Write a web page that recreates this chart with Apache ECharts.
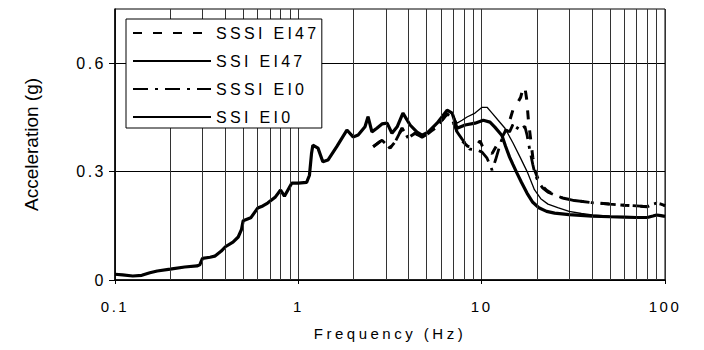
<!DOCTYPE html>
<html><head><meta charset="utf-8">
<script src="https://cdn.jsdelivr.net/npm/echarts@6/dist/echarts.min.js"></script>
<style>html,body{margin:0;padding:0;background:#fff}#c{width:704px;height:350px}</style>
</head><body><div id="c"></div>
<script>
// ---- data ----
const seriesNames = ['SSSI EI47', 'SSI EI47', 'SSSI EI0', 'SSI EI0'];
const yTickValues = [0, 0.3, 0.6];
const minorGridFreqs = [0.2,0.3,0.4,0.5,0.6,0.7,0.8,0.9, 2,3,4,5,6,7,8,9, 20,30,40,50,60,70,80,90];

// SSI EI0 (thick solid)
const freqSSI_EI0 = [0.1,0.11,0.125,0.14,0.155,0.17,0.2,0.24,0.28,0.29,0.3,0.33,0.35,0.38,0.4,0.44,0.47,0.49,0.5,0.55,0.6,0.64,0.68,0.75,0.8,0.84,0.92,1.0,1.11,1.15,1.18,1.2,1.28,1.36,1.45,1.62,1.84,1.99,2.12,2.31,2.4,2.52,2.68,2.86,3.05,3.24,3.46,3.72,4.07,4.44,4.73,5.1,5.71,6.48,6.9,7.34,8.12,9.2,10.2,11.1,11.8,12.9,13.5,14.2,14.8,15.6,16.5,17.7,19,20.5,22.6,25,30,40,50,60,70,80,86,90,95,100];
const valSSI_EI0  = [0.016,0.014,0.011,0.013,0.02,0.025,0.03,0.036,0.039,0.042,0.06,0.063,0.066,0.08,0.092,0.105,0.119,0.14,0.164,0.172,0.199,0.205,0.213,0.23,0.249,0.232,0.268,0.268,0.27,0.29,0.35,0.373,0.365,0.327,0.332,0.369,0.415,0.396,0.401,0.424,0.452,0.41,0.42,0.432,0.434,0.406,0.424,0.462,0.429,0.409,0.401,0.409,0.434,0.47,0.462,0.42,0.429,0.434,0.442,0.437,0.423,0.40,0.37,0.34,0.32,0.295,0.27,0.24,0.215,0.2,0.19,0.185,0.181,0.177,0.175,0.174,0.173,0.173,0.177,0.18,0.178,0.176];

// SSI EI47 (thin solid)
const freqSSI_EI47 = [0.1,0.11,0.125,0.14,0.155,0.17,0.2,0.24,0.28,0.29,0.3,0.33,0.35,0.38,0.4,0.44,0.47,0.49,0.5,0.55,0.6,0.64,0.68,0.75,0.8,0.84,0.92,1.0,1.11,1.15,1.18,1.2,1.28,1.36,1.45,1.62,1.84,1.99,2.12,2.31,2.4,2.52,2.68,2.86,3.05,3.24,3.46,3.72,4.07,4.44,4.73,5.1,5.71,6.48,6.9,7.34,7.82,8.32,9.2,10.05,10.7,11.4,12.3,13.4,14.8,16.2,17.7,19.4,21,23,26,30,35,40,50,60,70,80,86,90,95,100];
const valSSI_EI47  = [0.016,0.014,0.011,0.013,0.02,0.025,0.03,0.036,0.039,0.042,0.06,0.063,0.066,0.08,0.092,0.105,0.119,0.14,0.164,0.172,0.199,0.205,0.213,0.23,0.249,0.232,0.268,0.268,0.27,0.29,0.35,0.373,0.365,0.327,0.332,0.369,0.415,0.396,0.401,0.424,0.452,0.41,0.42,0.432,0.434,0.406,0.424,0.462,0.429,0.409,0.401,0.409,0.434,0.47,0.462,0.434,0.442,0.451,0.462,0.478,0.478,0.462,0.442,0.42,0.38,0.34,0.30,0.25,0.225,0.21,0.2,0.19,0.184,0.18,0.177,0.175,0.174,0.174,0.178,0.18,0.178,0.177];

// SSSI EI47 (dashed)
const freqSSSI_EI47 = [2.56,2.86,3.16,3.37,3.68,3.97,4.33,4.73,5.1,5.71,6.48,6.9,7.34,7.82,8.4,9.2,9.8,10.1,10.7,11.4,12.0,12.6,13.4,14.2,14.8,15.5,16.3,16.8,17.2,17.6,18.0,18.5,19.0,19.6,20.3,21.2,22.6,25,28,32,40,50,60,70,80,86,90,95,100];
const valSSSI_EI47  = [0.369,0.387,0.365,0.382,0.42,0.393,0.406,0.395,0.405,0.425,0.46,0.445,0.41,0.385,0.37,0.367,0.385,0.37,0.36,0.35,0.37,0.385,0.41,0.44,0.47,0.485,0.505,0.53,0.535,0.50,0.44,0.39,0.34,0.30,0.28,0.262,0.248,0.235,0.226,0.22,0.214,0.21,0.207,0.205,0.203,0.21,0.213,0.21,0.206];

// SSSI EI0 (dash-dot)
const freqSSSI_EI0 = [2.56,2.86,3.16,3.37,3.68,3.97,4.33,4.73,5.1,5.71,6.48,6.9,7.34,7.82,8.6,9.4,10.05,10.7,11.4,11.9,12.6,13.1,13.6,14.2,14.8,15.4,16.0,16.5,17.2,17.7,18.3,19.0,19.6,20.5,21.5,23,25,28,32,40,50,60,70,80,86,90,95,100];
const valSSSI_EI0  = [0.369,0.387,0.365,0.382,0.42,0.393,0.406,0.395,0.405,0.425,0.46,0.445,0.41,0.39,0.362,0.36,0.354,0.337,0.304,0.332,0.375,0.40,0.415,0.41,0.43,0.415,0.428,0.42,0.425,0.40,0.36,0.32,0.29,0.27,0.255,0.243,0.235,0.226,0.22,0.214,0.21,0.207,0.205,0.203,0.21,0.213,0.21,0.206];

// ---- chart ----
const pairs = (xs, ys) => xs.map((x, i) => [x, ys[i]]);
const FONT = 'Liberation Sans';
const chart = echarts.init(document.getElementById('c'), null, {renderer: 'svg'});

const lineDefs = [
  {name: seriesNames[0], data: pairs(freqSSSI_EI47, valSSSI_EI47), lineStyle: {color: '#000', width: 3, type: [9, 11]}, z: 4},
  {name: seriesNames[1], data: pairs(freqSSI_EI47, valSSI_EI47), lineStyle: {color: '#000', width: 1.3, type: 'solid'}, z: 5},
  {name: seriesNames[2], data: pairs(freqSSSI_EI0, valSSSI_EI0), lineStyle: {color: '#000', width: 2.8, type: [15, 7, 3, 7]}, z: 3},
  {name: seriesNames[3], data: pairs(freqSSI_EI0, valSSI_EI0), lineStyle: {color: '#000', width: 3.2, type: 'solid'}, z: 2}
];

const series = lineDefs.map((d, i) => ({
  type: 'line', name: d.name, data: d.data, symbol: 'none', showSymbol: false,
  lineStyle: d.lineStyle, itemStyle: {color: '#000'}, z: d.z, silent: true,
  markLine: i === 3 ? {
    silent: true, symbol: 'none', label: {show: false}, animation: false,
    lineStyle: {color: '#333', width: 1, type: 'solid'},
    data: minorGridFreqs.map(f => ({xAxis: f}))
  } : undefined
}));

chart.setOption({
  animation: false,
  backgroundColor: '#fff',
  grid: {left: 115, right: 39, top: 9, bottom: 70, show: true, borderColor: '#000', borderWidth: 1},
  legend: {
    orient: 'vertical', left: 126, top: 19,
    data: seriesNames,
    itemWidth: 78, itemHeight: 14, itemGap: 12,
    padding: [6, 32, 3, 6],
    borderColor: '#000', borderWidth: 1, backgroundColor: '#fff',
    itemStyle: {opacity: 0, borderWidth: 0, color: 'rgba(0,0,0,0)'},
    textStyle: {fontFamily: FONT, fontSize: 16, color: '#000'},
    selectedMode: false, z: 10
  },
  xAxis: {
    type: 'log', logBase: 10, min: 0.1, max: 100,
    name: 'Frequency (Hz)', nameLocation: 'middle', nameGap: 46,
    nameTextStyle: {fontFamily: FONT, fontSize: 15, color: '#000'},
    axisLine: {show: true, lineStyle: {color: '#000', width: 1.5}},
    axisTick: {show: true, length: 4, lineStyle: {color: '#000'}},
    axisLabel: {fontFamily: FONT, fontSize: 15, color: '#000', margin: 19,
      formatter: v => String(+(+v).toPrecision(3))},
    splitLine: {show: true, lineStyle: {color: '#333', width: 1}},
    minorTick: {show: false}, minorSplitLine: {show: false}
  },
  yAxis: {
    type: 'value', min: 0, max: 0.75, interval: 0.3,
    name: 'Acceleration (g)', nameLocation: 'middle', nameGap: 74, nameRotate: 90,
    nameTextStyle: {fontFamily: FONT, fontSize: 19, color: '#000'},
    axisLine: {show: true, lineStyle: {color: '#000', width: 1.5}},
    axisTick: {show: true, length: 6, customValues: yTickValues, lineStyle: {color: '#000'}},
    axisLabel: {fontFamily: FONT, fontSize: 16, color: '#000', margin: 9, customValues: yTickValues,
      formatter: v => String(v)},
    splitLine: {show: true, lineStyle: {color: '#000', width: 1}}
  },
  series: series
});

function spaceText() {
  const texts = document.querySelectorAll('#c text');
  texts.forEach(t => {
    const s = t.textContent;
    if (s === 'Acceleration (g)') return;
    if (s === 'Frequency (Hz)') t.style.letterSpacing = '3.5px';
    else if (seriesNames.indexOf(s) >= 0) t.style.letterSpacing = '3.3px';
    else t.style.letterSpacing = '2.5px';
  });
}
spaceText();
chart.on('finished', spaceText);
</script></body></html>
